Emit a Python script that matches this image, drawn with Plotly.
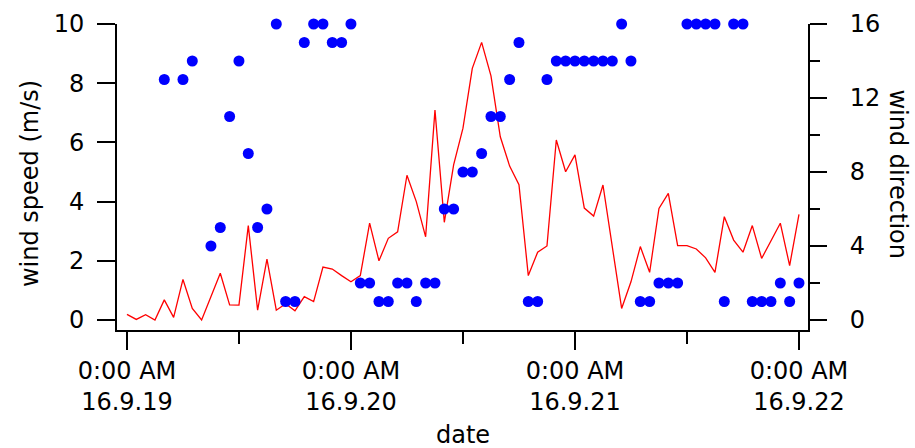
import pandas as pd
import plotly.graph_objects as go

# Hourly observations, 16.9.19 0:00 through 16.9.22 0:00
start = pd.Timestamp("2016-09-19 00:00")
times = pd.date_range(start, periods=73, freq="h")

# wind speed (m/s), one value per hour
wind_speed = [
    0.19, 0.02, 0.18, 0.00, 0.68, 0.09, 1.37, 0.39, 0.00, 0.79,
    1.58, 0.51, 0.50, 3.19, 0.33, 2.06, 0.33, 0.55, 0.31, 0.79,
    0.62, 1.79, 1.72, 1.50, 1.29, 1.50, 3.27, 2.00, 2.76, 2.98,
    4.89, 4.00, 2.81, 7.09, 3.30, 5.24, 6.48, 8.50, 9.38, 8.25,
    6.19, 5.20, 4.57, 1.50, 2.29, 2.50, 6.08, 5.01, 5.58, 3.78,
    3.51, 4.56, 2.50, 0.39, 1.29, 2.48, 1.61, 3.77, 4.28, 2.51,
    2.51, 2.40, 2.10, 1.61, 3.49, 2.70, 2.29, 3.19, 2.08, 2.67,
    3.27, 1.84, 3.57,
]

# wind direction (16-point index), None where no reading exists
wind_direction = [
    None, None, None, None, 13, None, 13, 14, None, 4,
    5, 11, 14, 9, 5, 6, 16, 1, 1, 15,
    16, 16, 15, 15, 16, 2, 2, 1, 1, 2,
    2, 1, 2, 2, 6, 6, 8, 8, 9, 11,
    11, 13, 15, 1, 1, 13, 14, 14, 14, 14,
    14, 14, 14, 16, 14, 1, 1, 2, 2, 2,
    16, 16, 16, 16, 1, 16, 16, 1, 1, 1,
    2, 1, 2,
]

day_ticks = pd.date_range(start, periods=4, freq="D")
day_labels = ["0:00 AM<br>" + d.strftime("%y.%-m.%d") for d in day_ticks]

FONT = "DejaVu Sans"
FS = 24

fig = go.Figure()
fig.add_trace(go.Scatter(
    x=times, y=wind_speed, mode="lines",
    line=dict(color="#ff0000", width=1.3),
    yaxis="y", showlegend=False,
))
fig.add_trace(go.Scatter(
    x=times, y=wind_direction, mode="markers",
    marker=dict(color="#0000ff", size=11, line=dict(width=0)),
    yaxis="y2", showlegend=False, cliponaxis=False,
))

x0 = start - pd.Timedelta(minutes=64)
x1 = start + pd.Timedelta(hours=72, minutes=58)

axis_common = dict(
    showgrid=False, zeroline=False, showline=True,
    linecolor="black", linewidth=2, ticks="outside",
    tickcolor="black", tickwidth=2, automargin=False,
    tickfont=dict(family=FONT, size=FS, color="black"),
)

fig.update_layout(
    width=915, height=448,
    margin=dict(l=117, r=107, t=24, b=118),
    paper_bgcolor="white", plot_bgcolor="white",
    font=dict(family=FONT, size=FS, color="black"),
    xaxis=dict(
        **axis_common,
        type="date", range=[x0, x1],
        tickmode="array", tickvals=day_ticks, ticktext=day_labels,
        ticklen=18,
        minor=dict(ticks="outside", ticklen=12, tickwidth=2,
                   tickcolor="black", dtick=12 * 3600 * 1000,
                   tick0=start),
    ),
    yaxis=dict(
        **axis_common,
        range=[-0.338, 10], tickmode="array",
        tickvals=[0, 2, 4, 6, 8, 10], ticklen=18,
        ticklabelstandoff=8,
    ),
    yaxis2=dict(
        **axis_common,
        overlaying="y", side="right",
        range=[-0.54, 16], tickmode="array",
        tickvals=[0, 4, 8, 12, 16], ticklen=17,
        ticklabelstandoff=18,
        minor=dict(ticks="outside", ticklen=10, tickwidth=2,
                   tickcolor="black", tickmode="array",
                   tickvals=[2, 6, 10, 14]),
    ),
    annotations=[
        dict(text="wind speed (m/s)", xref="paper", yref="paper",
             x=-0.126, y=0.48, textangle=-90, showarrow=False,
             xanchor="center", yanchor="middle",
             font=dict(family=FONT, size=FS, color="black")),
        dict(text="wind direction", xref="paper", yref="paper",
             x=1.131, y=0.51, textangle=90, showarrow=False,
             xanchor="center", yanchor="middle",
             font=dict(family=FONT, size=FS, color="black")),
        dict(text="date", xref="paper", yref="paper",
             x=0.5, y=-0.343, showarrow=False,
             xanchor="center", yanchor="middle",
             font=dict(family=FONT, size=FS, color="black")),
    ],
)

fig.write_html("out.html")
